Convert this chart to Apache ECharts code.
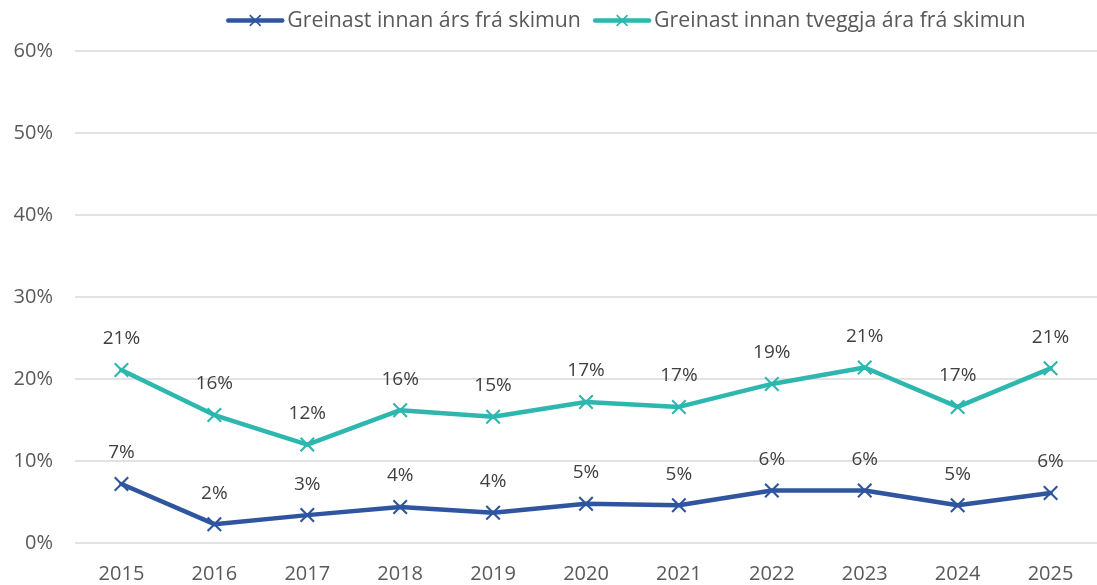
<!DOCTYPE html>
<html>
<head>
<meta charset="utf-8">
<script src="https://cdn.jsdelivr.net/npm/echarts@6/dist/echarts.min.js"></script>
<style>
  html, body { margin: 0; padding: 0; background: #fff; }
  #chart { width: 1097px; height: 585px; }
</style>
</head>
<body>
<div id="chart"></div>
<script>
var years = ['2015', '2016', '2017', '2018', '2019', '2020', '2021', '2022', '2023', '2024', '2025'];
var innanArs = [7.2, 2.3, 3.4, 4.4, 3.7, 4.8, 4.6, 6.4, 6.4, 4.6, 6.1];
var innanTveggja = [21.1, 15.6, 12.0, 16.2, 15.4, 17.2, 16.6, 19.4, 21.4, 16.6, 21.3];
var yTicks = [0, 10, 20, 30, 40, 50, 60];

var fontName = '"Open Sans", "Noto Sans", sans-serif';
// thin X cross as a filled polygon
var crossPath = 'path://M0,1L1,0L5,4L9,0L10,1L6,5L10,9L9,10L5,6L1,10L0,9L4,5Z';

function mkSeries(name, data, color) {
    return {
        name: name,
        type: 'line',
        data: data,
        symbol: crossPath,
        symbolSize: 15,
        lineStyle: { color: color, width: 4.5, cap: 'round' },
        itemStyle: { color: color },
        label: {
            show: true,
            position: 'top',
            distance: 14,
            color: '#404040',
            fontFamily: fontName,
            fontSize: 19,
            formatter: function (p) { return Math.round(p.value) + '%'; }
        },
        emphasis: { disabled: true },
        animation: false
    };
}

var chart = echarts.init(document.getElementById('chart'));
chart.setOption({
    backgroundColor: '#fff',
    legend: {
        top: 5,
        left: 221,
        itemWidth: 54,
        itemHeight: 15,
        itemGap: 12,
        lineStyle: { width: 4.5, cap: 'round' },
        textStyle: { color: '#595959', fontFamily: fontName, fontSize: 21.3 },
        data: [
            { name: 'Greinast innan árs frá skimun' },
            { name: 'Greinast innan tveggja ára frá skimun' }
        ]
    },
    grid: { left: 75, top: 51, width: 1033, height: 492, containLabel: false },
    xAxis: {
        type: 'category',
        data: years,
        boundaryGap: true,
        axisLine: { show: false },
        axisTick: { show: false },
        axisLabel: { color: '#595959', fontFamily: fontName, fontSize: 20, margin: 21 }
    },
    yAxis: {
        type: 'value',
        min: yTicks[0],
        max: yTicks[yTicks.length - 1],
        interval: 10,
        axisLine: { show: false },
        axisTick: { show: false },
        axisLabel: {
            color: '#595959', fontFamily: fontName, fontSize: 20, margin: 22,
            formatter: '{value}%'
        },
        splitLine: { lineStyle: { color: '#d9d9d9', width: 1.5 } }
    },
    series: [
        mkSeries('Greinast innan árs frá skimun', innanArs, '#2f559f'),
        mkSeries('Greinast innan tveggja ára frá skimun', innanTveggja, '#2db7ae')
    ]
});
</script>
</body>
</html>
